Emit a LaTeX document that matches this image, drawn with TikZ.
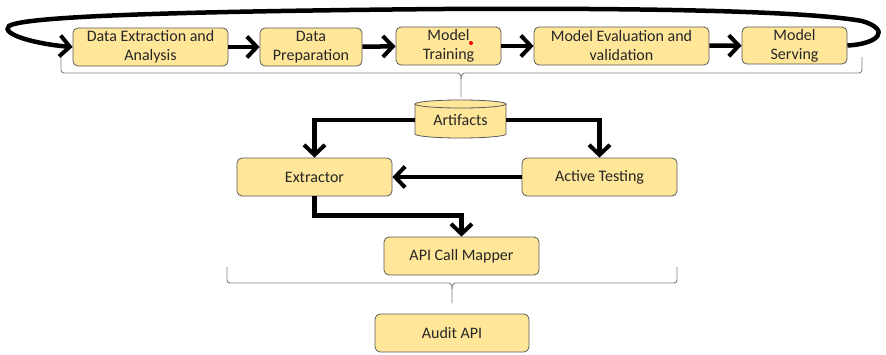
\documentclass[tikz,border=0pt]{standalone}
\usepackage{fontspec}
\setmainfont{Carlito}
\usetikzlibrary{arrows.meta}
\definecolor{boxfill}{HTML}{FFE699}
\definecolor{boxline}{HTML}{5A5A5A}
\definecolor{bracec}{HTML}{7F7F7F}
\tikzset{
  box/.style={draw=boxline, fill=boxfill, rounded corners=5pt, line width=0.8pt,
    align=center, inner sep=0pt, font=\fontsize{16}{19}\selectfont, text=black!85},
  flow/.style={line width=4.5pt, -{Straight Barb[length=10pt,width=21pt,line width=4pt]}},
  bracel/.style={draw=bracec, line width=0.9pt, rounded corners=3pt}
}
\begin{document}
\begin{tikzpicture}[x=1pt,y=-1pt]
\useasboundingbox (0,0) rectangle (886,354);
% top row
\node[box, minimum width=155, minimum height=38] (dea) at (150.5,47) {Data Extraction and\\Analysis};
\node[box, minimum width=102, minimum height=38] (dp) at (311,47) {Data\\Preparation};
\node[box, minimum width=105, minimum height=38] (mt) at (448.5,46) {Model\\Training};
\node[box, minimum width=175, minimum height=38] (mev) at (621.5,46) {Model Evaluation and\\validation};
\node[box, minimum width=105, minimum height=37] (ms) at (794.5,45.5) {Model\\Serving};
\fill[red] (471,43) circle (2pt);
% arrows in row
\draw[flow] (dea) -- (dp);
\draw[flow] (dp) -- (mt);
\draw[flow] (mt) -- (mev);
\draw[flow] (mev) -- (ms);
% loop back
\draw[flow] (ms.east) .. controls (878,44) and (892,30) .. (862,21)
  .. controls (800,10) and (620,8) .. (443,9)
  .. controls (220,11) and (25,15) .. (9,26)
  .. controls (0,34) and (35,44) .. (dea.west);
% top brace
\draw[bracel] (61,57) -- (61,73) -- (455,73) .. controls (459,73) and (461,75) .. (461,79) -- (461,97);
\draw[bracel] (862,57) -- (862,73) -- (467,73) .. controls (463,73) and (461,75) .. (461,79);
% artifacts cylinder
\node[minimum width=91, minimum height=37, inner sep=0pt] (art) at (460.5,120) {};
\fill[boxfill] (415,104) -- (415,134) arc[start angle=180,end angle=360,x radius=45.5pt,y radius=4pt] -- (506,104) -- cycle;
\draw[boxline, line width=0.8pt] (415,104) -- (415,134) arc[start angle=180,end angle=360,x radius=45.5pt,y radius=4pt] -- (506,104);
\draw[boxline, fill=boxfill, line width=0.8pt] (460.5,104) ellipse[x radius=45.5pt, y radius=4pt];
\node[font=\fontsize{16}{19}\selectfont, text=black!85] (artlabel) at (art) {Artifacts};
% middle
\node[box, minimum width=155, minimum height=38] (ext) at (314.5,177) {Extractor};
\node[box, minimum width=155, minimum height=38] (at) at (599.5,177) {Active Testing};
\node[box, minimum width=155, minimum height=38] (api) at (461.5,256) {API Call Mapper};
\node[box, minimum width=154, minimum height=38] (audit) at (452,333) {Audit API};
\draw[flow] (art.west) -| (ext.north);
\draw[flow] (art.east) -| (at.north);
\draw[flow] (at.west) -- (ext.east);
\draw[flow] (ext.south) -- ++(0,19) -| (api.north);
% bottom brace
\draw[bracel] (227,267) -- (227,283) -- (446,283) .. controls (450,283) and (452,285) .. (452,289) -- (452,303);
\draw[bracel] (677,267) -- (677,283) -- (458,283) .. controls (454,283) and (452,285) .. (452,289);
\end{tikzpicture}
\end{document}
